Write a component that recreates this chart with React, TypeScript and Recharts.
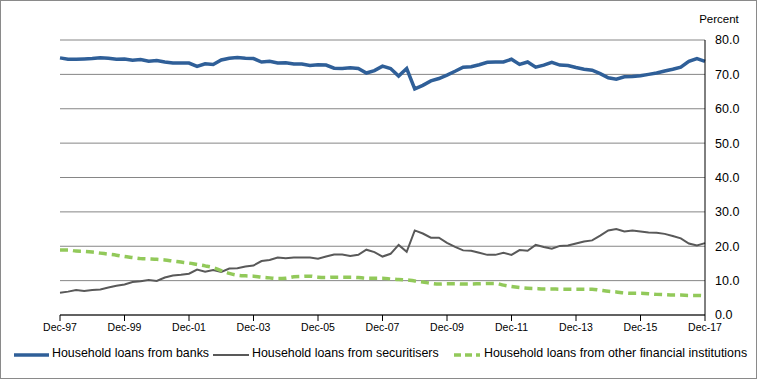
import React from 'react';
import { LineChart, Line, CartesianGrid, XAxis, YAxis, Legend } from 'recharts';

// quarterly, Dec-97 .. Dec-17
const quarterMonths = ['Mar', 'Jun', 'Sep', 'Dec'];
const quarters: string[] = ['Dec-97'];
for (let y = 1998; y <= 2017; y++) {
  for (const m of quarterMonths) quarters.push(`${m}-${String(y % 100).padStart(2, '0')}`);
}

const banks = [
  74.8, 74.4, 74.4, 74.5, 74.6, 74.8, 74.7, 74.4, 74.5, 74.1,
  74.3, 73.8, 74.0, 73.6, 73.3, 73.3, 73.3, 72.3, 73.1, 72.9,
  74.2, 74.7, 74.9, 74.7, 74.6, 73.6, 73.8, 73.3, 73.4, 73.0,
  73.0, 72.6, 72.8, 72.7, 71.8, 71.7, 71.9, 71.7, 70.4, 71.1,
  72.4, 71.7, 69.5, 71.7, 65.8, 66.8, 68.1, 68.8, 69.8, 70.9,
  72.1, 72.2, 72.8, 73.5, 73.6, 73.6, 74.4, 72.9, 73.6, 72.1,
  72.7, 73.5, 72.7, 72.6, 72.0, 71.5, 71.2, 70.2, 69.0, 68.6,
  69.3, 69.4, 69.6, 70.0, 70.4, 71.0, 71.5, 72.1, 73.8, 74.6,
  73.8,
];

const securitisers = [
  6.5, 6.8, 7.3, 7.0, 7.3, 7.4, 8.0, 8.5, 8.9, 9.6,
  9.8, 10.2, 9.9, 10.9, 11.5, 11.7, 12.0, 13.2, 12.6, 13.1,
  12.5, 13.5, 13.6, 14.1, 14.4, 15.7, 16.0, 16.7, 16.5, 16.7,
  16.7, 16.7, 16.4, 17.0, 17.6, 17.6, 17.2, 17.5, 19.0, 18.3,
  17.0, 17.8, 20.4, 18.4, 24.6, 23.7, 22.5, 22.5, 21.0, 19.8,
  18.8, 18.7, 18.1, 17.5, 17.5, 18.1, 17.5, 18.9, 18.7, 20.4,
  19.8, 19.3, 20.1, 20.2, 20.8, 21.4, 21.7, 23.1, 24.6, 25.0,
  24.3, 24.6, 24.3, 24.0, 23.9, 23.6, 23.0, 22.3, 20.8, 20.2,
  20.9,
];

const otherInstitutions = [
  18.9, 18.9, 18.6, 18.5, 18.3, 18.0, 17.7, 17.4, 17.0, 16.7,
  16.4, 16.3, 16.2, 16.0, 15.7, 15.4, 15.1, 14.7, 14.3, 13.8,
  12.9, 12.1, 11.6, 11.4, 11.3, 11.0, 10.8, 10.6, 10.7, 11.1,
  11.2, 11.3, 11.0, 10.9, 11.0, 11.0, 11.0, 10.9, 10.7, 10.7,
  10.7, 10.5, 10.3, 10.2, 9.9, 9.6, 9.2, 9.0, 9.1, 9.1,
  9.0, 9.0, 9.1, 9.2, 9.2, 8.7, 8.3, 8.0, 7.8, 7.7,
  7.6, 7.6, 7.5, 7.5, 7.5, 7.5, 7.5, 7.2, 6.9, 6.7,
  6.4, 6.3, 6.3, 6.2, 6.0, 5.9, 5.8, 5.8, 5.7, 5.7,
  5.6,
];

const yTicks = [0, 10, 20, 30, 40, 50, 60, 70, 80];

const data = quarters.map((q, i) => ({
  q,
  banks: banks[i],
  securitisers: securitisers[i],
  other: otherInstitutions[i],
}));

const FONT = '"Liberation Sans", Arial, sans-serif';

const legendItems = [
  { label: 'Household loans from banks', color: '#2f5f98', width: 3.5, dash: undefined, x: 14, len: 35 },
  { label: 'Household loans from securitisers', color: '#595959', width: 2, dash: undefined, x: 213, len: 36 },
  { label: 'Household loans from other financial institutions', color: '#92c95a', width: 3.5, dash: '7 4', x: 454, len: 26 },
];
const legendTextX = [52, 252, 484];

const LegendContent = () => (
  <div style={{ position: 'relative', width: 757, height: 20, fontFamily: FONT, fontSize: 12.4, color: '#000' }}>
    {legendItems.map((it, i) => (
      <React.Fragment key={it.label}>
        <svg width={it.len} height={10} style={{ position: 'absolute', left: it.x, top: 5 }}>
          <line x1={0} y1={5} x2={it.len} y2={5} stroke={it.color} strokeWidth={it.width} strokeDasharray={it.dash} />
        </svg>
        <span style={{ position: 'absolute', left: legendTextX[i], top: 1, whiteSpace: 'nowrap' }}>{it.label}</span>
      </React.Fragment>
    ))}
  </div>
);

const PercentLabel = ({ viewBox }: any) => (
  <text x={viewBox.x + 14} y={viewBox.y - 17} textAnchor="middle" fontSize={11.5} fontFamily={FONT} fill="#000">
    Percent
  </text>
);

export default function App() {
  return (
    <div style={{ position: 'absolute', left: 0, top: 0, width: 757, height: 379, background: '#fff' }}>
      <LineChart width={757} height={379} data={data} margin={{ top: 40, right: 7, left: 60, bottom: 42 }}>
        <CartesianGrid vertical={false} stroke="#868686" strokeWidth={1} />
        <XAxis
          dataKey="q"
          interval={7}
          stroke="#000"
          tick={{ fontSize: 10.5, fontFamily: FONT, fill: '#000' }}
          tickSize={6}
          tickMargin={3}
          height={22}
        />
        <YAxis
          orientation="right"
          domain={[0, 80]}
          ticks={yTicks}
          tickFormatter={(v: number) => v.toFixed(1)}
          stroke="#000"
          tickLine={false}
          tickMargin={4}
          width={45}
          tick={{ fontSize: 12.5, fontFamily: FONT, fill: '#000', textAnchor: 'start' }}
          label={<PercentLabel />}
        />
        <Legend
          verticalAlign="middle"
          align="center"
          wrapperStyle={{ top: 345, left: 0, width: 757 }}
          content={<LegendContent />}
        />
        <Line type="linear" dataKey="banks" stroke="#2f5f98" strokeWidth={3.5} dot={false} isAnimationActive={false} />
        <Line type="linear" dataKey="securitisers" stroke="#595959" strokeWidth={2} dot={false} isAnimationActive={false} />
        <Line type="monotone" dataKey="other" stroke="#92c95a" strokeWidth={3.5} strokeDasharray="8 5" dot={false} isAnimationActive={false} />
      </LineChart>
      <div style={{ position: 'absolute', left: 0, top: 0, width: 757, height: 379, boxSizing: 'border-box', border: '1px solid #8a8a8a', pointerEvents: 'none' }} />
    </div>
  );
}
